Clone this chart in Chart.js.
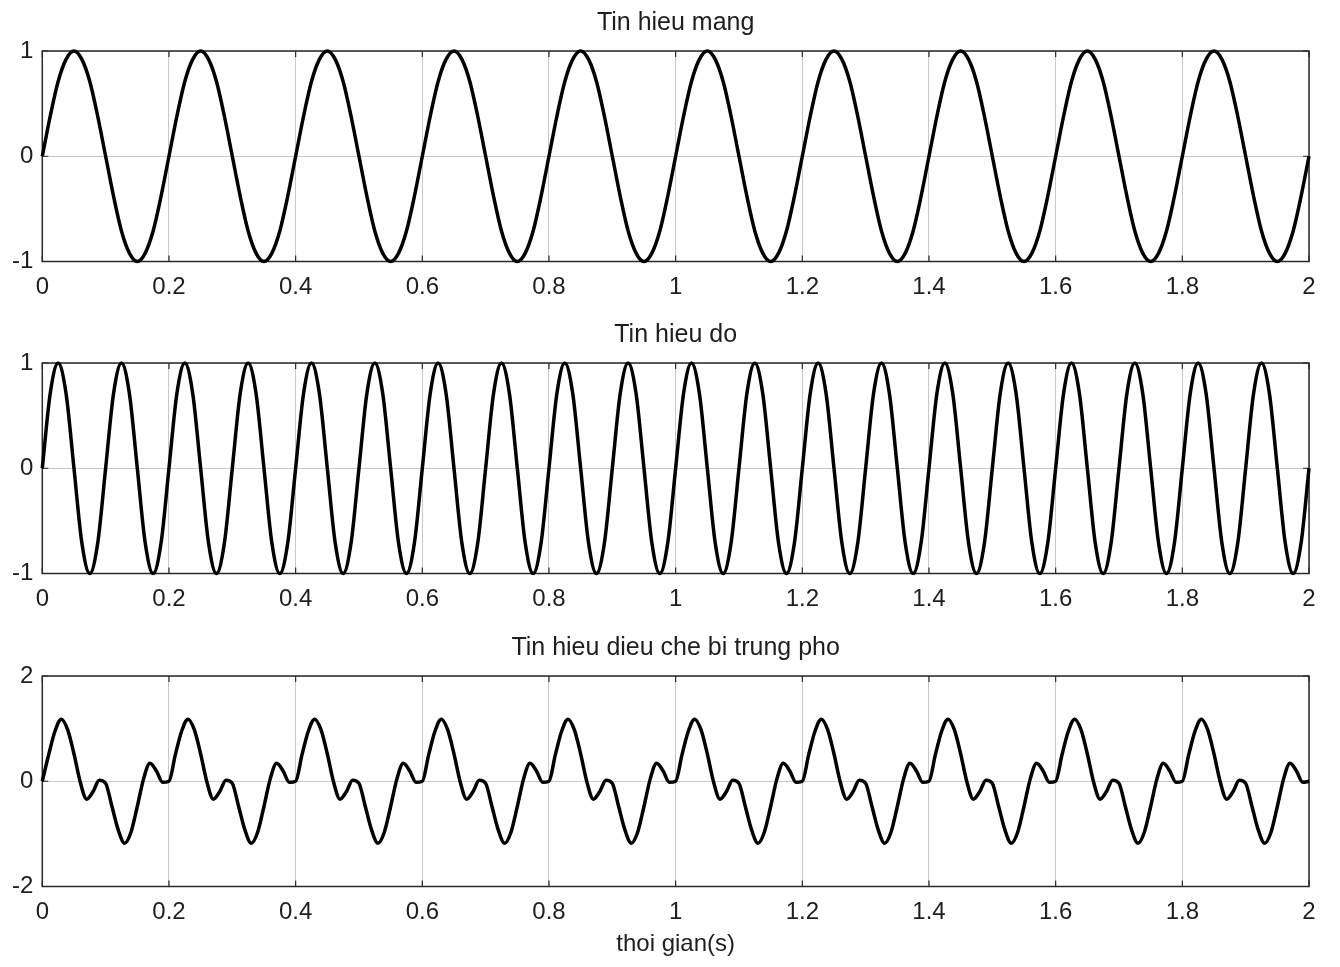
<!DOCTYPE html>
<html>
<head>
<meta charset="utf-8">
<script src="https://cdn.jsdelivr.net/npm/chart.js@4.4.1/dist/chart.umd.min.js"></script>
<style>
	body { margin: 0; background: #fff; width: 1340px; height: 967px; overflow: hidden; position: relative; }
	.khung { position: absolute; left: 0; width: 1340px; }
</style>
</head>
<body>
<div class="khung" style="top:0;height:312px"><canvas id="c1"></canvas></div>
<div class="khung" style="top:312px;height:312px"><canvas id="c2"></canvas></div>
<div class="khung" style="top:625px;height:342px"><canvas id="c3"></canvas></div>
<script>
/* du lieu doc tu hinh */
const tieuDe = ['Tin hieu mang', 'Tin hieu do', 'Tin hieu dieu che bi trung pho'];
const nhanTrucX = 'thoi gian(s)';
const nhanX = [0, 0.2, 0.4, 0.6, 0.8, 1, 1.2, 1.4, 1.6, 1.8, 2];

// buoc lay mau (s)
const buocMang = 0.0125;
const buocDo = 0.0125;
const buocDieuChe = 0.01;

// tin hieu mang, 0 -> 2 s
const tinHieuMang = [
	0, 0.38, 0.71, 0.92, 1, 0.92, 0.71, 0.38, 0, -0.38, -0.71, -0.92, -1, -0.92, -0.71, -0.38,
	0, 0.38, 0.71, 0.92, 1, 0.92, 0.71, 0.38, 0, -0.38, -0.71, -0.92, -1, -0.92, -0.71, -0.38,
	0, 0.38, 0.71, 0.92, 1, 0.92, 0.71, 0.38, 0, -0.38, -0.71, -0.92, -1, -0.92, -0.71, -0.38,
	0, 0.38, 0.71, 0.92, 1, 0.92, 0.71, 0.38, 0, -0.38, -0.71, -0.92, -1, -0.92, -0.71, -0.38,
	0, 0.38, 0.71, 0.92, 1, 0.92, 0.71, 0.38, 0, -0.38, -0.71, -0.92, -1, -0.92, -0.71, -0.38,
	0, 0.38, 0.71, 0.92, 1, 0.92, 0.71, 0.38, 0, -0.38, -0.71, -0.92, -1, -0.92, -0.71, -0.38,
	0, 0.38, 0.71, 0.92, 1, 0.92, 0.71, 0.38, 0, -0.38, -0.71, -0.92, -1, -0.92, -0.71, -0.38,
	0, 0.38, 0.71, 0.92, 1, 0.92, 0.71, 0.38, 0, -0.38, -0.71, -0.92, -1, -0.92, -0.71, -0.38,
	0, 0.38, 0.71, 0.92, 1, 0.92, 0.71, 0.38, 0, -0.38, -0.71, -0.92, -1, -0.92, -0.71, -0.38,
	0, 0.38, 0.71, 0.92, 1, 0.92, 0.71, 0.38, 0, -0.38, -0.71, -0.92, -1, -0.92, -0.71, -0.38,
	0
];

// tin hieu do
const tinHieuDo = [
	0, 0.71, 1, 0.71, 0, -0.71, -1, -0.71, 0, 0.71, 1, 0.71, 0, -0.71, -1, -0.71,
	0, 0.71, 1, 0.71, 0, -0.71, -1, -0.71, 0, 0.71, 1, 0.71, 0, -0.71, -1, -0.71,
	0, 0.71, 1, 0.71, 0, -0.71, -1, -0.71, 0, 0.71, 1, 0.71, 0, -0.71, -1, -0.71,
	0, 0.71, 1, 0.71, 0, -0.71, -1, -0.71, 0, 0.71, 1, 0.71, 0, -0.71, -1, -0.71,
	0, 0.71, 1, 0.71, 0, -0.71, -1, -0.71, 0, 0.71, 1, 0.71, 0, -0.71, -1, -0.71,
	0, 0.71, 1, 0.71, 0, -0.71, -1, -0.71, 0, 0.71, 1, 0.71, 0, -0.71, -1, -0.71,
	0, 0.71, 1, 0.71, 0, -0.71, -1, -0.71, 0, 0.71, 1, 0.71, 0, -0.71, -1, -0.71,
	0, 0.71, 1, 0.71, 0, -0.71, -1, -0.71, 0, 0.71, 1, 0.71, 0, -0.71, -1, -0.71,
	0, 0.71, 1, 0.71, 0, -0.71, -1, -0.71, 0, 0.71, 1, 0.71, 0, -0.71, -1, -0.71,
	0, 0.71, 1, 0.71, 0, -0.71, -1, -0.71, 0, 0.71, 1, 0.71, 0, -0.71, -1, -0.71,
	0
];

// tin hieu dieu che bi trung pho
const tinHieuDieuChe = [
	0, 0.5, 0.95, 1.18, 0.98, 0.52, -0.02, -0.34, -0.2, 0.02, -0.04, -0.48, -0.93, -1.18, -0.97, -0.48, 0.05, 0.34, 0.2, -0.02,
	0, 0.5, 0.95, 1.18, 0.98, 0.52, -0.02, -0.34, -0.2, 0.02, -0.04, -0.48, -0.93, -1.18, -0.97, -0.48, 0.05, 0.34, 0.2, -0.02,
	0, 0.5, 0.95, 1.18, 0.98, 0.52, -0.02, -0.34, -0.2, 0.02, -0.04, -0.48, -0.93, -1.18, -0.97, -0.48, 0.05, 0.34, 0.2, -0.02,
	0, 0.5, 0.95, 1.18, 0.98, 0.52, -0.02, -0.34, -0.2, 0.02, -0.04, -0.48, -0.93, -1.18, -0.97, -0.48, 0.05, 0.34, 0.2, -0.02,
	0, 0.5, 0.95, 1.18, 0.98, 0.52, -0.02, -0.34, -0.2, 0.02, -0.04, -0.48, -0.93, -1.18, -0.97, -0.48, 0.05, 0.34, 0.2, -0.02,
	0, 0.5, 0.95, 1.18, 0.98, 0.52, -0.02, -0.34, -0.2, 0.02, -0.04, -0.48, -0.93, -1.18, -0.97, -0.48, 0.05, 0.34, 0.2, -0.02,
	0, 0.5, 0.95, 1.18, 0.98, 0.52, -0.02, -0.34, -0.2, 0.02, -0.04, -0.48, -0.93, -1.18, -0.97, -0.48, 0.05, 0.34, 0.2, -0.02,
	0, 0.5, 0.95, 1.18, 0.98, 0.52, -0.02, -0.34, -0.2, 0.02, -0.04, -0.48, -0.93, -1.18, -0.97, -0.48, 0.05, 0.34, 0.2, -0.02,
	0, 0.5, 0.95, 1.18, 0.98, 0.52, -0.02, -0.34, -0.2, 0.02, -0.04, -0.48, -0.93, -1.18, -0.97, -0.48, 0.05, 0.34, 0.2, -0.02,
	0, 0.5, 0.95, 1.18, 0.98, 0.52, -0.02, -0.34, -0.2, 0.02, -0.04, -0.48, -0.93, -1.18, -0.97, -0.48, 0.05, 0.34, 0.2, -0.02,
	0
];

const nhanYTren = [-1, 0, 1];
const nhanYDuoi = [-2, 0, 2];

const FONT = "'Liberation Sans', Arial, sans-serif";
const MAU_CHU = '#1e1e1e';
const MAU_LUOI = '#c8c8c8';

/* khung hop + vach chia ben trong (kieu MATLAB) */
const khungPlugin = {
	id: 'khungMatlab',
	beforeDatasetsDraw(chart) {
		const { ctx, chartArea: a, scales: { x, y } } = chart;
		ctx.save();
		ctx.strokeStyle = '#2a2a2a';
		ctx.lineWidth = 1.5;
		ctx.strokeRect(a.left, a.top, a.right - a.left, a.bottom - a.top);
		ctx.lineWidth = 1.2;
		ctx.beginPath();
		x.ticks.forEach(t => {
			const px = x.getPixelForValue(t.value);
			ctx.moveTo(px, a.top); ctx.lineTo(px, a.top + 6);
			ctx.moveTo(px, a.bottom); ctx.lineTo(px, a.bottom - 6);
		});
		y.ticks.forEach(t => {
			const py = y.getPixelForValue(t.value);
			ctx.moveTo(a.left, py); ctx.lineTo(a.left + 6, py);
			ctx.moveTo(a.right, py); ctx.lineTo(a.right - 6, py);
		});
		ctx.stroke();
		ctx.restore();
	}
};

function veDoThi(id, tieuDeDoThi, giaTri, buoc, nhanY, coNhanTruc) {
	const diem = giaTri.map((v, i) => ({ x: i * buoc, y: v }));
	return new Chart(document.getElementById(id), {
		type: 'line',
		data: {
			datasets: [{
				data: diem,
				borderColor: '#000',
				borderWidth: 3.5,
				pointRadius: 0,
				fill: false,
				cubicInterpolationMode: 'monotone',
				clip: false
			}]
		},
		options: {
			responsive: true,
			maintainAspectRatio: false,
			animation: false,
			devicePixelRatio: 1,
			layout: { padding: { left: 0, right: 31, top: 0, bottom: 0 } },
			plugins: {
				legend: { display: false },
				tooltip: { enabled: false },
				title: {
					display: true,
					text: tieuDeDoThi,
					fullSize: false,
					color: MAU_CHU,
					font: { family: FONT, size: 25, weight: 'normal', lineHeight: 1.2 },
					padding: { top: 8, bottom: 13 }
				}
			},
			scales: {
				x: {
					type: 'linear',
					min: nhanX[0],
					max: nhanX[nhanX.length - 1],
					afterBuildTicks: s => { s.ticks = nhanX.map(v => ({ value: v })); },
					afterFit: s => { s.height = coNhanTruc ? 80.5 : 50.5; },
					grid: { color: MAU_LUOI, lineWidth: 1, drawTicks: false },
					border: { display: false },
					ticks: {
						autoSkip: false,
						maxRotation: 0,
						padding: 11,
						color: MAU_CHU,
						font: { family: FONT, size: 24 },
						callback: v => String(Math.round(v * 10) / 10)
					},
					title: {
						display: coNhanTruc,
						text: nhanTrucX,
						color: MAU_CHU,
						font: { family: FONT, size: 24 },
						padding: { top: 2, bottom: 8 }
					}
				},
				y: {
					min: nhanY[0],
					max: nhanY[nhanY.length - 1],
					afterBuildTicks: s => { s.ticks = nhanY.map(v => ({ value: v })); },
					afterFit: s => { s.width = 42.3; },
					grid: { color: MAU_LUOI, lineWidth: 1, drawTicks: false },
					border: { display: false },
					ticks: {
						padding: 9,
						color: MAU_CHU,
						font: { family: FONT, size: 24 }
					}
				}
			}
		},
		plugins: [khungPlugin]
	});
}

veDoThi('c1', tieuDe[0], tinHieuMang, buocMang, nhanYTren, false);
veDoThi('c2', tieuDe[1], tinHieuDo, buocDo, nhanYTren, false);
veDoThi('c3', tieuDe[2], tinHieuDieuChe, buocDieuChe, nhanYDuoi, true);
</script>
</body>
</html>
